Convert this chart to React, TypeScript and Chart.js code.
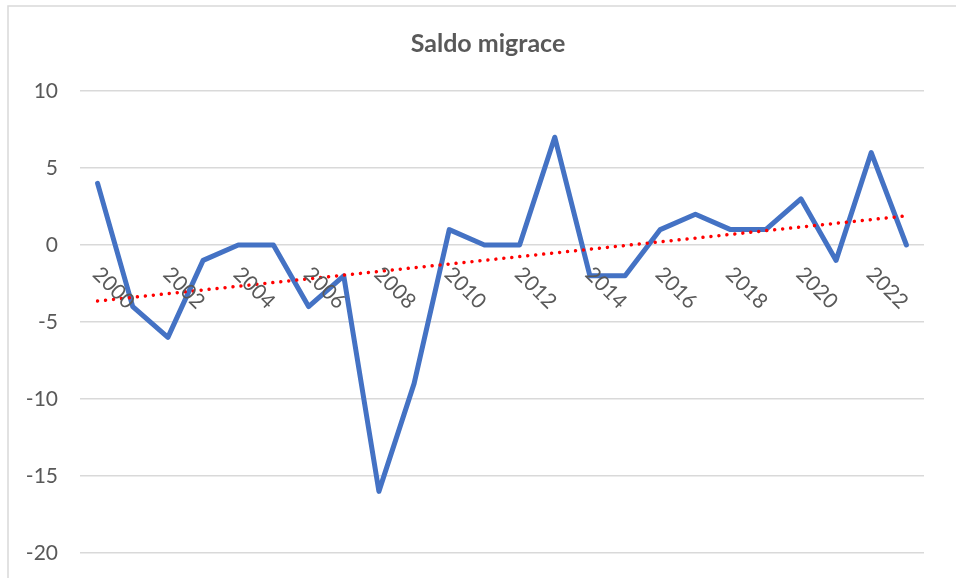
import React, { useEffect, useRef } from "react";
import { Chart, registerables } from "chart.js";

Chart.register(...registerables);

const years: string[] = [
  "2000", "2001", "2002", "2003", "2004", "2005", "2006", "2007",
  "2008", "2009", "2010", "2011", "2012", "2013", "2014", "2015",
  "2016", "2017", "2018", "2019", "2020", "2021", "2022", "2023",
];

const saldo: number[] = [
  4, -4, -6, -1, 0, 0, -4, -2, -16, -9, 1, 0, 0, 7, -2, -2, 1, 2, 1, 1, 3, -1, 6, 0,
];

const yTicks: number[] = [-20, -15, -10, -5, 0, 5, 10];

const shownYearLabels: string[] = [
  "2000", "2002", "2004", "2006", "2008", "2010",
  "2012", "2014", "2016", "2018", "2020", "2022",
];

const TITLE = "Saldo migrace";
const FONT = "Lato, 'Open Sans', sans-serif";
const TEXT = "#595959";

function linearTrend(values: number[]): number[] {
  const n = values.length;
  const xs = values.map((_, i) => i);
  const mx = xs.reduce((a, b) => a + b, 0) / n;
  const my = values.reduce((a, b) => a + b, 0) / n;
  let sxy = 0;
  let sxx = 0;
  for (let i = 0; i < n; i++) {
    sxy += (xs[i] - mx) * (values[i] - my);
    sxx += (xs[i] - mx) * (xs[i] - mx);
  }
  const slope = sxy / sxx;
  const icpt = my - slope * mx;
  return xs.map((x) => icpt + slope * x);
}

const frame = {
  id: "frame",
  beforeDraw(chart: any) {
    const ctx = chart.ctx;
    ctx.save();
    ctx.fillStyle = "#ffffff";
    ctx.fillRect(0, 0, chart.width, chart.height);
    ctx.strokeStyle = "#d9d9d9";
    ctx.lineWidth = 1.5;
    ctx.strokeRect(8, 6, chart.width + 100, chart.height + 100);
    ctx.fillStyle = TEXT;
    ctx.font = `bold 25px ${FONT}`;
    ctx.textAlign = "center";
    ctx.textBaseline = "middle";
    ctx.fillText(TITLE, 488, 44);
    ctx.restore();
  },
};

const yearLabels = {
  id: "yearLabels",
  afterDatasetsDraw(chart: any) {
    const ctx = chart.ctx;
    const xs = chart.scales.x;
    const ys = chart.scales.y;
    const y0 = ys.getPixelForValue(0);
    ctx.save();
    ctx.fillStyle = TEXT;
    ctx.font = `21px ${FONT}`;
    ctx.textAlign = "center";
    ctx.textBaseline = "middle";
    shownYearLabels.forEach((lab) => {
      const idx = years.indexOf(lab);
      const px = xs.getPixelForValue(idx);
      ctx.save();
      ctx.translate(px + 16, y0 + 43);
      ctx.rotate(Math.PI / 4);
      ctx.fillText(lab, 0, 0);
      ctx.restore();
    });
    ctx.restore();
  },
};

export default function App() {
  const ref = useRef<HTMLCanvasElement | null>(null);

  useEffect(() => {
    if (!ref.current) return;
    const trend = linearTrend(saldo);
    const chart = new Chart(ref.current, {
      type: "line",
      data: {
        labels: years,
        datasets: [
          {
            label: "Lineární (Saldo migrace)",
            data: trend,
            borderColor: "#ff0000",
            borderWidth: 3.5,
            borderDash: [0.01, 8],
            borderCapStyle: "round",
            pointRadius: 0,
            fill: false,
            tension: 0,
          },
          {
            label: "Saldo migrace",
            data: saldo,
            borderColor: "#4472c4",
            borderWidth: 5,
            borderJoinStyle: "round",
            borderCapStyle: "round",
            pointRadius: 0,
            fill: false,
            tension: 0,
          },
        ],
      },
      options: {
        animation: false,
        responsive: false,
        layout: { padding: { top: 91, left: 8, right: 32, bottom: 25 } },
        plugins: {
          legend: { display: false },
          tooltip: { enabled: false },
          title: { display: false },
        },
        scales: {
          x: {
            type: "category",
            display: false,
            offset: true,
          },
          y: {
            min: -20,
            max: 10,
            afterFit: (s: any) => {
              s.width = 72;
              s.paddingTop = 0;
              s.paddingBottom = 0;
            },
            afterBuildTicks: (s: any) => {
              s.ticks = yTicks.map((v) => ({ value: v }));
            },
            border: { display: false },
            grid: { color: "#d9d9d9", lineWidth: 1.5, drawTicks: false },
            ticks: {
              color: TEXT,
              padding: 22,
              font: { family: FONT, size: 21 },
            },
          },
        },
      },
      plugins: [frame, yearLabels],
    });
    return () => chart.destroy();
  }, []);

  return (
    <div style={{ position: "fixed", left: 0, top: 0, width: 956, height: 578 }}>
      <canvas ref={ref} width={956} height={578} style={{ display: "block" }} />
    </div>
  );
}
